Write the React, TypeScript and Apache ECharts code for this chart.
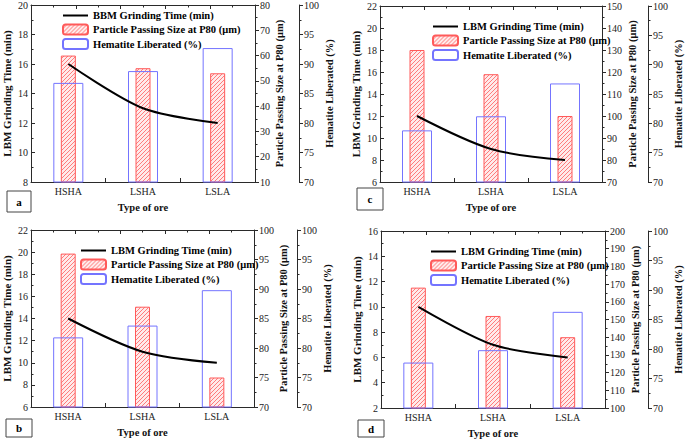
import React, { useEffect, useRef } from 'react';
import * as echarts from 'echarts';

const categories = ['HSHA', 'LSHA', 'LSLA'];

// panel a
const grindA = [16, 13, 12];
const sizeA = [60, 55, 53];
const libA = [86.8, 88.8, 92.7];
// panel b
const grindB = [14, 11, 10];
const sizeB = [96, 87, 75];
const libB = [81.8, 83.8, 89.8];
// panel c
const grindC = [12, 9, 8];
const sizeC = [130, 119, 100];
const libC = [78.8, 81.2, 86.8];
// panel d
const grindD = [10, 7, 6];
const sizeD = [168, 152, 140];
const libD = [77.7, 79.8, 86.3];

// axis ranges [min, max, interval]
const grindAxisA = [8, 20, 2];
const sizeAxisA = [10, 80, 10];
const grindAxisB = [6, 22, 2];
const sizeAxisB = [70, 100, 5];
const grindAxisC = [6, 22, 2];
const sizeAxisC = [70, 150, 10];
const grindAxisD = [2, 16, 2];
const sizeAxisD = [100, 200, 10];
const libAxis = [70, 100, 5];

const panelLetters = ['a', 'c', 'b', 'd'];
const lineNameA = 'BBM Grinding Time (min)';
const lineName = 'LBM Grinding Time (min)';
const sizeName = 'Particle Passing Size at P80 (μm)';
const libName = 'Hematite Liberated (%)';
const leftTitle = 'LBM Grinding Time (min)';
const xTitle = 'Type of ore';

const FONT = '"Liberation Serif", "Times New Roman", serif';
const AX = '#2a2a2a';

function makeHatch() {
  const c = document.createElement('canvas');
  c.width = 4;
  c.height = 4;
  const ctx = c.getContext('2d')!;
  ctx.fillStyle = '#ffeaea';
  ctx.fillRect(0, 0, 4, 4);
  ctx.strokeStyle = '#ff7c7c';
  ctx.lineWidth = 1;
  ctx.beginPath();
  ctx.moveTo(-1, 5);
  ctx.lineTo(5, -1);
  ctx.moveTo(-1, 1);
  ctx.lineTo(1, -1);
  ctx.moveTo(3, 5);
  ctx.lineTo(5, 3);
  ctx.stroke();
  return c;
}

export default function App() {
  const ref = useRef<HTMLDivElement>(null);
  useEffect(() => {
    if (!ref.current) return;
    const chart = echarts.init(ref.current, null, { renderer: 'svg' });
    const hatch = makeHatch();
    const hatchFill: any = { image: hatch, repeat: 'repeat', imageWidth: 4, imageHeight: 4 };

    const panels = [
      { grind: grindA, size: sizeA, lib: libA, gAx: grindAxisA, sAx: sizeAxisA, line: lineNameA,
        left: 29, top: 4, width: 226, height: 178, off: 44, sGap: 18, lGap: 25,
        legL: 62, legT: 10, box: [7, 191, 24, 21] },
      { grind: grindC, size: sizeC, lib: libC, gAx: grindAxisC, sAx: sizeAxisC, line: lineName,
        left: 380, top: 6, width: 225, height: 176, off: 46, sGap: 25, lGap: 25,
        legL: 432, legT: 21, box: [357, 188, 26, 22] },
      { grind: grindB, size: sizeB, lib: libB, gAx: grindAxisB, sAx: sizeAxisB, line: lineName,
        left: 29, top: 230, width: 225, height: 177, off: 43, sGap: 18, lGap: 25,
        legL: 80, legT: 245, box: [6, 419, 26, 18] },
      { grind: grindD, size: sizeD, lib: libD, gAx: grindAxisD, sAx: sizeAxisD, line: lineName,
        left: 381, top: 231, width: 226, height: 177, off: 43, sGap: 25, lGap: 25,
        legL: 430, legT: 246, box: [358, 420, 26, 17] },
    ];

    const grid: any[] = [];
    const xAxis: any[] = [];
    const yAxis: any[] = [];
    const series: any[] = [];
    const legend: any[] = [];
    const graphic: any[] = [];

    const tickLabel = { fontSize: 10, fontFamily: FONT, color: '#222' };
    const titleStyle = { fontSize: 11, fontWeight: 'bold', fontFamily: FONT, color: '#111' };
    const lineStyleAx = { color: AX, width: 1 };

    panels.forEach((p, g) => {
      grid.push({ left: p.left, top: p.top, width: p.width, height: p.height });
      const xBase = xAxis.length;
      xAxis.push({
        gridIndex: g, type: 'category', data: categories, position: 'bottom',
        axisLine: { show: true, onZero: false, lineStyle: lineStyleAx },
        axisTick: { show: true, inside: true, length: 4, lineStyle: lineStyleAx },
        axisLabel: { ...tickLabel, margin: 4 },
        name: xTitle, nameLocation: 'middle', nameGap: 20, nameTextStyle: { ...titleStyle, fontSize: 10.5 },
      });
      xAxis.push({
        gridIndex: g, type: 'category', data: categories, position: 'bottom',
        axisLine: { show: false, onZero: false },
        axisTick: { show: true, inside: true, length: 2.5, alignWithLabel: true, lineStyle: lineStyleAx },
        axisLabel: { show: false },
      });
      xAxis.push({
        gridIndex: g, type: 'value', position: 'top', min: 0, max: 10, interval: 2,
        axisLine: { show: true, onZero: false, lineStyle: lineStyleAx },
        axisTick: { show: true, inside: true, length: 4, lineStyle: lineStyleAx },
        minorTick: { show: true, splitNumber: 2, length: 2.5, lineStyle: lineStyleAx },
        axisLabel: { show: false },
        splitLine: { show: false },
      });
      const yBase = yAxis.length;
      yAxis.push({
        gridIndex: g, type: 'value', position: 'left', min: p.gAx[0], max: p.gAx[1], interval: p.gAx[2],
        axisLine: { show: true, onZero: false, lineStyle: lineStyleAx },
        axisTick: { show: true, inside: true, length: 4, lineStyle: lineStyleAx },
        minorTick: { show: true, splitNumber: 2, length: 2.5, lineStyle: lineStyleAx },
        axisLabel: { ...tickLabel, margin: 3 },
        splitLine: { show: false },
        name: leftTitle, nameLocation: 'middle', nameGap: 19, nameRotate: 90, nameTextStyle: titleStyle,
      });
      yAxis.push({
        gridIndex: g, type: 'value', position: 'right', offset: 0, min: p.sAx[0], max: p.sAx[1], interval: p.sAx[2],
        axisLine: { show: true, onZero: false, lineStyle: lineStyleAx },
        axisTick: { show: true, inside: false, length: 4, lineStyle: lineStyleAx },
        minorTick: { show: true, splitNumber: 2, length: 2.5, lineStyle: lineStyleAx },
        axisLabel: { ...tickLabel, margin: 5 },
        splitLine: { show: false },
        name: sizeName, nameLocation: 'middle', nameGap: p.sGap, nameRotate: 90,
        nameTextStyle: { ...titleStyle, fontSize: 10.5 },
      });
      yAxis.push({
        gridIndex: g, type: 'value', position: 'right', offset: p.off, min: libAxis[0], max: libAxis[1], interval: libAxis[2],
        axisLine: { show: true, onZero: false, lineStyle: lineStyleAx },
        axisTick: { show: true, inside: false, length: 4, lineStyle: lineStyleAx },
        minorTick: { show: true, splitNumber: 2, length: 2.5, lineStyle: lineStyleAx },
        axisLabel: { ...tickLabel, margin: 5 },
        splitLine: { show: false },
        name: libName, nameLocation: 'middle', nameGap: p.lGap, nameRotate: 90,
        nameTextStyle: { ...titleStyle, fontSize: 10.5 },
      });

      series.push({
        type: 'bar', name: sizeName, xAxisIndex: xBase + 1, yAxisIndex: yBase + 1,
        data: p.size, barWidth: 15, z: 2,
        itemStyle: { color: hatchFill, borderColor: '#ff5a5a', borderWidth: 1 },
      });
      series.push({
        type: 'bar', name: libName, xAxisIndex: xBase, yAxisIndex: yBase + 2,
        data: p.lib, barWidth: 30, z: 3,
        itemStyle: { color: 'rgba(255,255,255,0)', borderColor: '#7474ff', borderWidth: 1 },
      });
      series.push({
        type: 'line', name: p.line, xAxisIndex: xBase, yAxisIndex: yBase,
        data: p.grind, smooth: 0.3, symbol: 'none', z: 4,
        lineStyle: { color: '#000', width: 2 },
        itemStyle: { color: '#000' },
      });

      legend.push({
        orient: 'vertical', left: p.legL, top: p.legT, itemWidth: 25, itemHeight: 10, itemGap: 2.5,
        data: [
          { name: p.line, itemStyle: { opacity: 0, color: 'rgba(0,0,0,0)', borderWidth: 0 } },
          sizeName,
          libName,
        ],
        selectedMode: false,
        textStyle: { fontSize: 10.5, fontWeight: 'bold', fontFamily: FONT, color: '#000' },
        padding: 0,
      });

      const [bx, by, bw, bh] = p.box;
      graphic.push({
        type: 'rect', shape: { x: bx, y: by, width: bw, height: bh },
        style: { fill: '#fff', stroke: '#444', lineWidth: 1 },
      });
      graphic.push({
        type: 'text', x: bx + bw / 2, y: by + bh / 2,
        style: { text: panelLetters[g], font: 'bold 11px ' + FONT, fill: '#000', textAlign: 'center', textVerticalAlign: 'middle' },
      });
    });

    chart.setOption({
      animation: false,
      backgroundColor: '#fff',
      grid, xAxis, yAxis, series, legend, graphic,
    });
    return () => chart.dispose();
  }, []);
  return <div ref={ref} style={{ position: 'absolute', left: 0, top: 0, width: 685, height: 441 }} />;
}
